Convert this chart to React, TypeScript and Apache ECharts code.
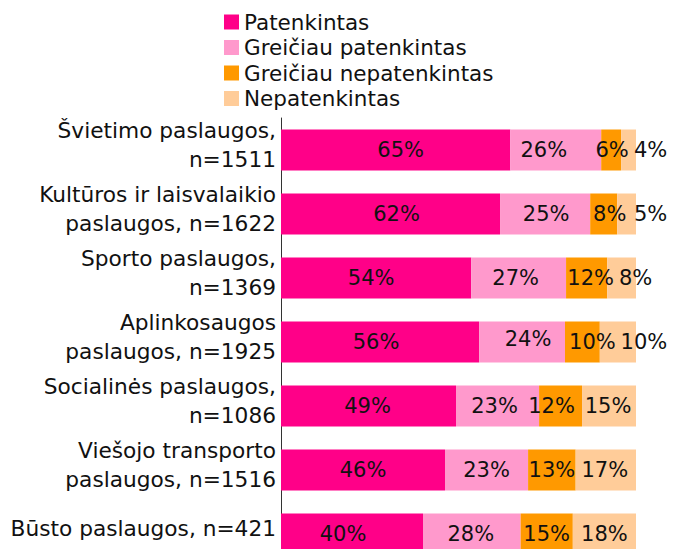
import React, { useEffect, useRef } from "react";
import * as echarts from "echarts";

const categories = [
  "Švietimo paslaugos,\nn=1511",
  "Kultūros ir laisvalaikio\npaslaugos, n=1622",
  "Sporto paslaugos,\nn=1369",
  "Aplinkosaugos\npaslaugos, n=1925",
  "Socialinės paslaugos,\nn=1086",
  "Viešojo transporto\npaslaugos, n=1516",
  "Būsto paslaugos, n=421",
];

const seriesNames = [
  "Patenkintas",
  "Greičiau patenkintas",
  "Greičiau nepatenkintas",
  "Nepatenkintas",
];

const patenkintas = [64.6, 61.7, 53.6, 55.8, 49.3, 46.2, 40.0];
const greiciauPatenkintas = [25.6, 25.4, 26.7, 24.2, 23.4, 23.4, 27.5];
const greiciauNepatenkintas = [5.6, 7.6, 11.6, 9.8, 12.1, 13.4, 14.7];
const nepatenkintas = [4.2, 5.3, 8.1, 10.2, 15.2, 17.0, 17.8];

const colors = ["#FF0088", "#FF99CC", "#FF9900", "#FFCC99"];

// label nudges (x, y) per series per row, to mimic original label placement
const labelNudges: number[][][] = [
  [[5, 0], [6, 0], [-5, 0], [-4, 0], [-1, 0], [0, 0], [-9, 0]],
  [[-12, 0], [1, 0], [-3, 0], [6, -3], [-3, 0], [0, 0], [-1, 0]],
  [[1, 0], [6, 0], [4, 0], [10, 0], [-9, 0], [0, 0], [0, 0]],
  [[22, 0], [24, 0], [14, 0], [26, 0], [-1, 0], [-1, 0], [0, 0]],
];

const FONT = "DejaVu Sans";

export default function App() {
  const ref = useRef<HTMLDivElement>(null);
  useEffect(() => {
    if (!ref.current) return;
    const chart = echarts.init(ref.current, undefined, { renderer: "svg" });
    const allData = [patenkintas, greiciauPatenkintas, greiciauNepatenkintas, nepatenkintas];
    chart.setOption({
      animation: false,
      textStyle: { fontFamily: FONT },
      legend: {
        orient: "vertical",
        left: 224,
        top: 11,
        padding: 0,
        itemWidth: 15,
        itemHeight: 15,
        itemGap: 3.5,
        itemTextGap: 5,
        icon: "rect",
        data: seriesNames,
        textStyle: { fontFamily: FONT, fontSize: 21.5, color: "#111", lineHeight: 21 },
      },
      grid: { left: 281, top: 118, width: 355, height: 448, containLabel: false },
      xAxis: {
        type: "value",
        min: 0,
        max: 100,
        show: false,
      },
      yAxis: {
        type: "category",
        inverse: true,
        data: categories,
        axisLine: { show: true, lineStyle: { color: "#333", width: 1 } },
        axisTick: { show: false },
        axisLabel: {
          interval: 0,
          margin: 5,
          fontFamily: FONT,
          fontSize: 21.7,
          lineHeight: 29,
          color: "#111",
          align: "right",
          formatter: (v: string) => v + "\n{s| }",
          rich: { s: { fontSize: 8, lineHeight: 11 } },
        },
      },
      series: seriesNames.map((name, si) => ({
        name,
        type: "bar",
        stack: "total",
        barWidth: 41,
        itemStyle: { color: colors[si] },
        label: {
          show: true,
          position: "inside",
          fontFamily: FONT,
          fontSize: 21,
          color: "#111",
          formatter: (p: any) => Math.round(p.value) + "%",
        },
        data: allData[si].map((v, i) => ({
          value: v,
          label: { offset: labelNudges[si][i] },
        })),
      })),
    });
    return () => chart.dispose();
  }, []);
  return (
    <div style={{ position: "absolute", left: 0, top: 0, width: 686, height: 549, overflow: "hidden" }}>
      <div ref={ref} style={{ width: 686, height: 600 }} />
    </div>
  );
}
